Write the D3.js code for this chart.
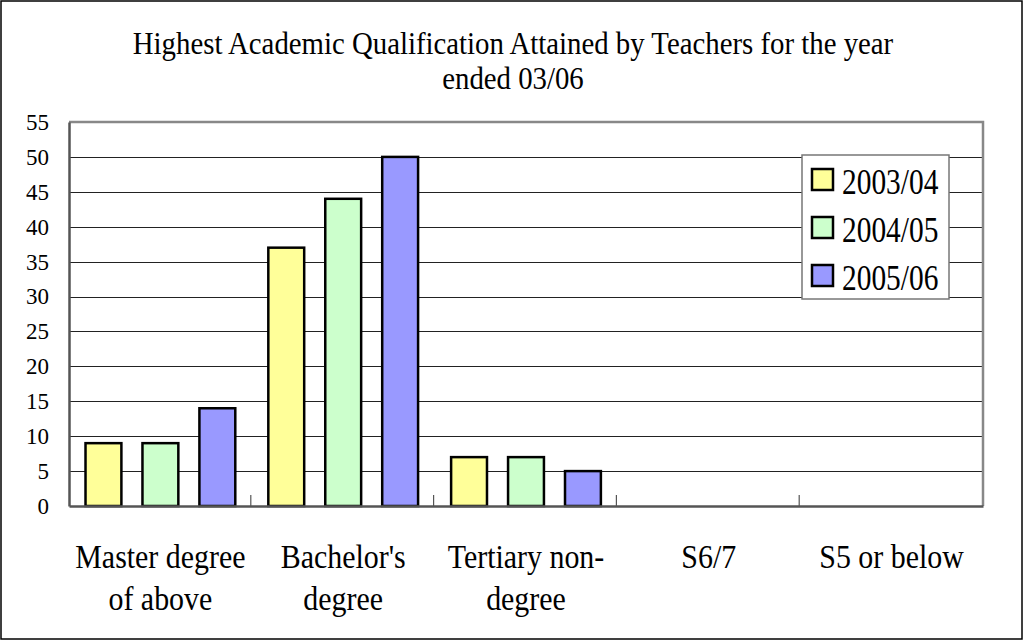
<!DOCTYPE html>
<html>
<head>
<meta charset="utf-8">
<script src="https://cdn.jsdelivr.net/npm/d3@7"></script>
<style>
  body { margin: 0; background: #fff; }
  svg { display: block; }
  svg text { font-family: "Liberation Serif", "Times New Roman", serif; }
</style>
</head>
<body>
<svg id="chart" width="1024" height="641"></svg>
<script>
// chart values
var categories = [["Master degree", "of above"], ["Bachelor's", "degree"], ["Tertiary non-", "degree"], ["S6/7"], ["S5 or below"]];
var seriesNames = ["2003/04", "2004/05", "2005/06"];
var seriesColors = ["#ffff99", "#ccffcc", "#9999ff"];
var values2003 = [9, 37, 7, 0, 0];
var values2004 = [9, 44, 7, 0, 0];
var values2005 = [14, 50, 5, 0, 0];
var yTicks = [0, 5, 10, 15, 20, 25, 30, 35, 40, 45, 50, 55];
var titleLines = ["Highest Academic Qualification Attained by Teachers for the year", "ended 03/06"];

(function () {
  var svg = d3.select("#chart");
  var margin = {top: 122, right: 41, bottom: 135, left: 69};
  var width = +svg.attr("width") - margin.left - margin.right;
  var height = +svg.attr("height") - margin.top - margin.bottom;
  var seriesValues = [values2003, values2004, values2005];

  // squeeze text horizontally, the original font is a narrow one
  function condense(sel, k) {
    sel.each(function () {
      var len = this.getComputedTextLength();
      d3.select(this).attr("textLength", len * k).attr("lengthAdjust", "spacingAndGlyphs");
    });
  }

  // outer frame
  svg.append("rect")
    .attr("x", 1).attr("y", 1)
    .attr("width", 1021).attr("height", 638)
    .attr("fill", "#fff")
    .attr("stroke", "#000")
    .attr("stroke-width", 1.5);

  // title
  svg.append("g").selectAll("text")
    .data(titleLines)
    .enter().append("text")
      .attr("x", 513)
      .attr("y", function(d, i) { return 54 + i * 35; })
      .attr("text-anchor", "middle")
      .attr("font-size", 32)
      .attr("fill", "#000")
      .text(function(d) { return d; })
      .call(condense, 0.9);

  var g = svg.append("g")
    .attr("transform", "translate(" + margin.left + "," + margin.top + ")");

  var x0 = d3.scaleBand()
    .domain(d3.range(categories.length))
    .range([0, width]);

  var x1 = d3.scaleBand()
    .domain(seriesNames)
    .range([0, x0.bandwidth()])
    .paddingInner(0.37)
    .paddingOuter(0.29);

  var y = d3.scaleLinear()
    .domain([0, 55])
    .range([height, 0]);

  // gridlines
  g.append("g")
    .selectAll("line")
    .data(yTicks.filter(function(d) { return d > 0 && d < 55; }))
    .enter().append("line")
      .attr("x1", 0).attr("x2", width)
      .attr("y1", function(d) { return Math.round(y(d)) + 0.5; })
      .attr("y2", function(d) { return Math.round(y(d)) + 0.5; })
      .attr("stroke", "#222")
      .attr("stroke-width", 1);

  // top and right edge of plot area
  g.append("path")
    .attr("d", "M0,0H" + width + "V" + height)
    .attr("fill", "none")
    .attr("stroke", "#888")
    .attr("stroke-width", 2.5);

  // bars
  g.append("g")
    .selectAll("g")
    .data(categories)
    .enter().append("g")
      .attr("transform", function(d, i) { return "translate(" + x0(i) + ",0)"; })
    .selectAll("rect")
    .data(function(d, i) {
      return seriesNames.map(function(s, j) { return {series: s, color: seriesColors[j], value: seriesValues[j][i]}; });
    })
    .enter().filter(function(d) { return d.value > 0; }).append("rect")
      .attr("x", function(d) { return x1(d.series); })
      .attr("y", function(d) { return y(d.value); })
      .attr("width", x1.bandwidth())
      .attr("height", function(d) { return y(0) - y(d.value); })
      .attr("fill", function(d) { return d.color; })
      .attr("stroke", "#000")
      .attr("stroke-width", 2.5);

  // y axis
  var yAxis = g.append("g")
    .attr("class", "axis axis--y")
    .call(d3.axisLeft(y).tickValues(yTicks).tickSize(0).tickPadding(20));
  yAxis.attr("font-family", null).attr("font-size", null);
  yAxis.select(".domain").attr("stroke", "#555").attr("stroke-width", 2.5);
  yAxis.selectAll("text")
    .style("font-family", "'Liberation Serif', serif")
    .style("font-size", "23px")
    .attr("fill", "#000");

  // x axis, ticks point inward at band edges
  var xAxis = g.append("g")
    .attr("class", "axis axis--x")
    .attr("transform", "translate(0," + height + ")")
    .call(d3.axisBottom(x0).tickSize(0).tickFormat(""));
  xAxis.attr("font-family", null).attr("font-size", null);
  xAxis.select(".domain").attr("stroke", "#555").attr("stroke-width", 2.5);
  xAxis.selectAll(".tick").remove();

  xAxis.append("g")
    .selectAll("line")
    .data(d3.range(1, categories.length))
    .enter().append("line")
      .attr("x1", function(d) { return x0(d) - 1; })
      .attr("x2", function(d) { return x0(d) - 1; })
      .attr("y1", 0).attr("y2", -11)
      .attr("stroke", "#555")
      .attr("stroke-width", 1.2);

  // category labels
  var labels = xAxis.append("g")
    .selectAll("text")
    .data(categories)
    .enter().append("text")
      .attr("x", function(d, i) { return x0(i) + x0.bandwidth() / 2; })
      .attr("y", 62)
      .attr("text-anchor", "middle")
      .attr("font-size", 34)
      .attr("fill", "#000");

  labels.selectAll("tspan")
    .data(function(d) { return d; })
    .enter().append("tspan")
      .attr("x", function() { return this.parentNode.getAttribute("x"); })
      .attr("dy", function(d, i) { return i === 0 ? 0 : 42; })
      .text(function(d) { return d; })
      .call(condense, 0.88);

  // legend
  var legend = svg.append("g")
    .attr("transform", "translate(802,155)");

  legend.append("rect")
    .attr("width", 147)
    .attr("height", 144)
    .attr("fill", "#fff")
    .attr("stroke", "#777")
    .attr("stroke-width", 1.5);

  var item = legend.selectAll(".item")
    .data(seriesNames)
    .enter().append("g")
      .attr("class", "item")
      .attr("transform", function(d, i) { return "translate(0," + (i * 48) + ")"; });

  item.append("rect")
    .attr("x", 10).attr("y", 14)
    .attr("width", 21).attr("height", 21)
    .attr("fill", function(d, i) { return seriesColors[i]; })
    .attr("stroke", "#000")
    .attr("stroke-width", 2.5);

  item.append("text")
    .attr("x", 40)
    .attr("y", 39)
    .attr("font-size", 35)
    .attr("fill", "#000")
    .text(function(d) { return d; })
    .call(condense, 0.84);
}());
</script>
</body>
</html>
